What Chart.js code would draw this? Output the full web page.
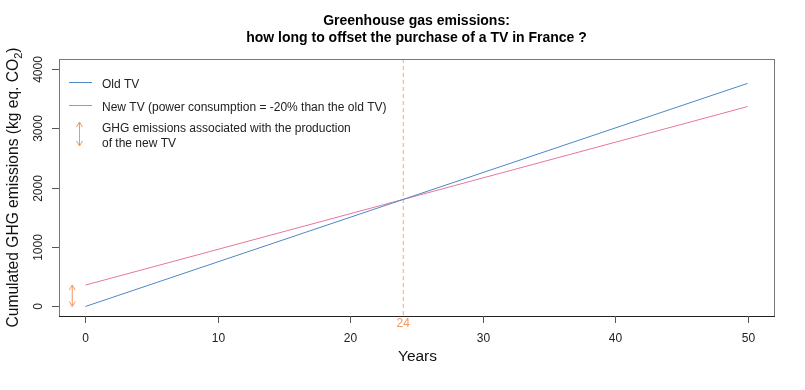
<!DOCTYPE html>
<html>
<head>
<meta charset="utf-8">
<script src="https://cdn.jsdelivr.net/npm/chart.js@4/dist/chart.umd.min.js"></script>
<style>
  html, body { margin: 0; padding: 0; background: #fff; }
  #wrap { width: 805px; height: 390px; }
</style>
</head>
<body>
<div id="wrap"><canvas id="ghgChart" width="805" height="390"></canvas></div>
<script>
// ===== Data =====
const years = [0, 24, 50];
const oldTvEmissions = [0, 1800, 3750];
const newTvEmissions = [360, 1800, 3360];
const breakEvenYear = 24;
const productionEmissions = 360;
const arrowYear = -1;
const xTicks = [0, 10, 20, 30, 40, 50];
const yTicks = [0, 1000, 2000, 3000, 4000];

const titleLines = ["Greenhouse gas emissions:", "how long to offset the purchase of a TV in France ?"];
const legendLabels = [
  "Old TV",
  "New TV (power consumption = -20% than the old TV)",
  "GHG emissions associated with the production",
  "of the new TV"
];

const BLUE = "#4f86c6";
const PINK = "#e8769e";
const ORANGE = "#f2955f";
const FONT = "'Liberation Sans', Arial, sans-serif";

function drawArrow(ctx, x, y1, y2, color) {
  const head = 5, spread = 3;
  ctx.save();
  ctx.strokeStyle = color;
  ctx.lineWidth = 1;
  ctx.beginPath();
  ctx.moveTo(x, y1); ctx.lineTo(x, y2);
  // top head
  ctx.moveTo(x - spread, y2 + head); ctx.lineTo(x, y2); ctx.lineTo(x + spread, y2 + head);
  // bottom head
  ctx.moveTo(x - spread, y1 - head); ctx.lineTo(x, y1); ctx.lineTo(x + spread, y1 - head);
  ctx.stroke();
  ctx.restore();
}

// ===== Axes, title, legend (R-like look) =====
const decorPlugin = {
  id: "decor",
  beforeDatasetsDraw(chart) {
    const { ctx, chartArea: a, scales: { x } } = chart;
    // break-even dashed line
    const bx = x.getPixelForValue(breakEvenYear);
    ctx.save();
    ctx.strokeStyle = "#f4a880";
    ctx.lineWidth = 1;
    ctx.setLineDash([4, 3]);
    ctx.beginPath();
    ctx.moveTo(bx, a.top); ctx.lineTo(bx, a.bottom);
    ctx.stroke();
    ctx.restore();
  },
  afterDraw(chart) {
    const { ctx, chartArea: a, scales: { x, y } } = chart;
    ctx.save();

    // box
    ctx.strokeStyle = "#777";
    ctx.lineWidth = 1;
    ctx.strokeRect(a.left + 0.5, a.top + 0.5, a.right - a.left, a.bottom - a.top);
    ctx.strokeStyle = "#222";
    ctx.beginPath();
    ctx.moveTo(a.left, a.bottom + 0.5); ctx.lineTo(a.right + 1, a.bottom + 0.5);
    ctx.stroke();

    // x ticks
    ctx.fillStyle = "#222";
    ctx.font = "12px " + FONT;
    ctx.textAlign = "center";
    ctx.textBaseline = "middle";
    ctx.strokeStyle = "#555";
    xTicks.forEach(v => {
      const px = Math.round(x.getPixelForValue(v)) + 0.5;
      ctx.beginPath();
      ctx.moveTo(px, a.bottom); ctx.lineTo(px, a.bottom + 7);
      ctx.stroke();
      ctx.fillText(String(v), px, a.bottom + 23);
    });

    // y ticks (rotated labels)
    yTicks.forEach(v => {
      const py = Math.round(y.getPixelForValue(v)) + 0.5;
      ctx.beginPath();
      ctx.moveTo(a.left - 7, py); ctx.lineTo(a.left, py);
      ctx.stroke();
      ctx.save();
      ctx.translate(a.left - 20, py);
      ctx.rotate(-Math.PI / 2);
      ctx.fillText(String(v), 0, 0);
      ctx.restore();
    });

    // break-even label
    ctx.fillStyle = ORANGE;
    ctx.fillText(String(breakEvenYear), x.getPixelForValue(breakEvenYear), a.bottom + 8);

    // production emissions arrow
    drawArrow(ctx, x.getPixelForValue(arrowYear), y.getPixelForValue(0), y.getPixelForValue(productionEmissions), ORANGE);

    // title
    ctx.fillStyle = "#000";
    ctx.font = "bold 14px " + FONT;
    const cx = (a.left + a.right) / 2;
    ctx.fillText(titleLines[0], cx, 21);
    ctx.fillText(titleLines[1], cx, 38);

    // axis titles
    ctx.font = "15.5px " + FONT;
    ctx.fillStyle = "#111";
    ctx.fillText("Years", cx + 1, 357);

    ctx.save();
    ctx.translate(14, (a.top + a.bottom) / 2);
    ctx.rotate(-Math.PI / 2);
    const main = "Cumulated GHG emissions (kg eq. CO";
    ctx.font = "15.6px " + FONT;
    const wMain = ctx.measureText(main).width;
    ctx.font = "11px " + FONT;
    const wSub = ctx.measureText("2").width;
    ctx.font = "15.6px " + FONT;
    const wEnd = ctx.measureText(")").width;
    let sx = -(wMain + wSub + wEnd) / 2;
    ctx.textAlign = "left";
    ctx.fillText(main, sx, 0);
    sx += wMain;
    ctx.font = "11px " + FONT;
    ctx.fillText("2", sx, 5);
    sx += wSub;
    ctx.font = "15.6px " + FONT;
    ctx.fillText(")", sx, 0);
    ctx.restore();

    // legend
    ctx.textAlign = "left";
    ctx.font = "12px " + FONT;
    ctx.fillStyle = "#222";
    ctx.lineWidth = 1;
    ctx.strokeStyle = BLUE;
    ctx.beginPath(); ctx.moveTo(69, 82.5); ctx.lineTo(92, 82.5); ctx.stroke();
    ctx.strokeStyle = PINK;
    ctx.beginPath(); ctx.moveTo(69, 105.5); ctx.lineTo(92, 105.5); ctx.stroke();
    drawArrow(ctx, 79.5, 146, 122, ORANGE);
    ctx.fillText(legendLabels[0], 102, 85);
    ctx.fillText(legendLabels[1], 102, 108);
    ctx.fillText(legendLabels[2], 102, 129);
    ctx.fillText(legendLabels[3], 102, 144);

    ctx.restore();
  }
};

const ghgChart = new Chart(document.getElementById("ghgChart"), {
  type: "line",
  data: {
    labels: years,
    datasets: [
      {
        label: "Old TV",
        data: years.map((yr, i) => ({ x: yr, y: oldTvEmissions[i] })),
        borderColor: BLUE,
        borderWidth: 1,
        pointRadius: 0,
        fill: false
      },
      {
        label: "New TV",
        data: years.map((yr, i) => ({ x: yr, y: newTvEmissions[i] })),
        borderColor: PINK,
        borderWidth: 1,
        pointRadius: 0,
        fill: false
      }
    ]
  },
  options: {
    responsive: false,
    animation: false,
    layout: { padding: { left: 59, right: 31, top: 59, bottom: 74 } },
    plugins: {
      legend: { display: false },
      title: { display: false },
      tooltip: { enabled: false }
    },
    scales: {
      x: { type: "linear", min: -2, max: 52, display: false },
      y: { type: "linear", min: -160, max: 4160, display: false }
    }
  },
  plugins: [decorPlugin]
});
</script>
</body>
</html>
